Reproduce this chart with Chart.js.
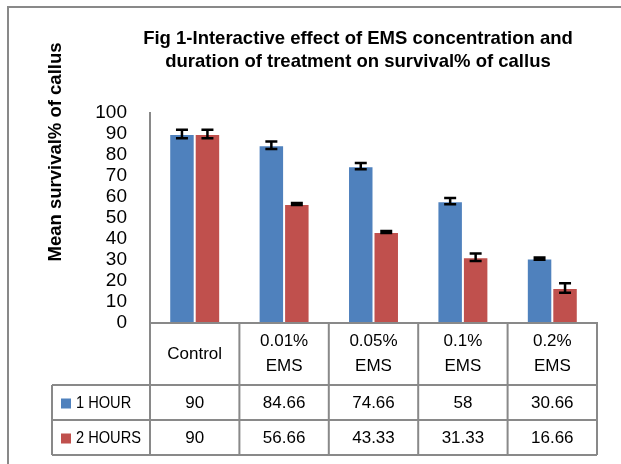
<!DOCTYPE html>
<html>
<head>
<meta charset="utf-8">
<script src="https://cdn.jsdelivr.net/npm/chart.js@4/dist/chart.umd.min.js"></script>
<style>
  html, body { margin: 0; padding: 0; background: #fff; }
  #wrap { width: 621px; height: 464px; position: relative; }
</style>
</head>
<body>
<div id="wrap"><canvas id="chart"></canvas></div>
<script>
// --- Data ---
const categories = [['Control'], ['0.01%', 'EMS'], ['0.05%', 'EMS'], ['0.1%', 'EMS'], ['0.2%', 'EMS']];
const seriesNames = ['1 HOUR', '2 HOURS'];
const oneHour = [90, 84.66, 74.66, 58, 30.66];
const twoHours = [90, 56.66, 43.33, 31.33, 16.66];
const oneHourErr = [2, 1.8, 1.5, 1.5, 0.5];
const twoHoursErr = [2, 0.5, 0.5, 1.8, 2.3];
const yTicks = [0, 10, 20, 30, 40, 50, 60, 70, 80, 90, 100];
const titleLines = ['Fig 1-Interactive effect of EMS concentration and', 'duration of treatment on survival% of callus'];
const yTitle = 'Mean survival% of callus';

const FONT = "'Liberation Sans', Arial, sans-serif";
const BLUE = '#4F81BD';
const RED = '#C0504D';
const GRID = '#898989';

// --- Error bars drawn from the scales ---
const errorBars = {
    id: 'errorBars',
    afterDatasetsDraw(chart) {
        const ctx = chart.ctx;
        const y = chart.scales.y;
        const errs = [oneHourErr, twoHoursErr];
        ctx.save();
        ctx.strokeStyle = '#000';
        ctx.lineWidth = 2.5;
        chart.data.datasets.forEach((ds, di) => {
            const meta = chart.getDatasetMeta(di);
            meta.data.forEach((bar, i) => {
                const v = ds.data[i];
                const e = errs[di][i];
                const top = y.getPixelForValue(v + e);
                const bot = y.getPixelForValue(v - e);
                ctx.beginPath();
                ctx.moveTo(bar.x, top); ctx.lineTo(bar.x, bot);
                ctx.moveTo(bar.x - 6, top); ctx.lineTo(bar.x + 6, top);
                ctx.moveTo(bar.x - 6, bot); ctx.lineTo(bar.x + 6, bot);
                ctx.stroke();
            });
        });
        ctx.restore();
    }
};

// --- Titles, frame and data table ---
const decorations = {
    id: 'decorations',
    afterDraw(chart) {
        const ctx = chart.ctx;
        const x = chart.scales.x;
        const area = chart.chartArea;
        ctx.save();

        // outer frame (left and top edges visible)
        ctx.strokeStyle = GRID;
        ctx.lineWidth = 2;
        ctx.beginPath();
        ctx.moveTo(8, 464); ctx.lineTo(8, 7); ctx.lineTo(621, 7);
        ctx.stroke();

        // chart title
        ctx.fillStyle = '#000';
        ctx.font = 'bold 18.5px ' + FONT;
        ctx.textAlign = 'center';
        ctx.textBaseline = 'middle';
        ctx.fillText(titleLines[0], 358, 39);
        ctx.fillText(titleLines[1], 358, 62);

        // y axis title
        ctx.save();
        ctx.translate(56, 152);
        ctx.rotate(-Math.PI / 2);
        ctx.fillText(yTitle, 0, 0);
        ctx.restore();

        // data table
        const half = (x.getPixelForValue(1) - x.getPixelForValue(0)) / 2;
        const left = x.getPixelForValue(0) - half;
        const right = x.getPixelForValue(categories.length - 1) + half;
        const headTop = area.bottom;
        const headBot = headTop + 62;
        const rowH = 35;
        const tableLeft = 52;

        ctx.strokeStyle = GRID;
        ctx.lineWidth = 2;
        ctx.beginPath();
        ctx.moveTo(left, headTop); ctx.lineTo(right, headTop);
        ctx.moveTo(tableLeft, headBot); ctx.lineTo(right, headBot);
        ctx.moveTo(tableLeft, headBot + rowH); ctx.lineTo(right, headBot + rowH);
        ctx.moveTo(tableLeft, headBot + 2 * rowH); ctx.lineTo(right, headBot + 2 * rowH);
        ctx.moveTo(tableLeft, headBot); ctx.lineTo(tableLeft, headBot + 2 * rowH);
        for (let i = 0; i <= categories.length; i++) {
            const px = left + i * 2 * half;
            ctx.moveTo(px, headTop); ctx.lineTo(px, headBot + 2 * rowH);
        }
        ctx.stroke();

        ctx.font = '17px ' + FONT;
        ctx.fillStyle = '#000';
        ctx.textAlign = 'center';
        categories.forEach((lines, i) => {
            const cx = x.getPixelForValue(i);
            const mid = (headTop + headBot) / 2;
            const lh = 25;
            lines.forEach((ln, k) => {
                ctx.fillText(ln, cx, mid + (k - (lines.length - 1) / 2) * lh);
            });
        });

        const rows = [oneHour, twoHours];
        const colors = [BLUE, RED];
        rows.forEach((vals, r) => {
            const cy = headBot + r * rowH + rowH / 2 + 1;
            ctx.font = '17px ' + FONT;
            ctx.textAlign = 'center';
            ctx.fillStyle = '#000';
            vals.forEach((v, i) => ctx.fillText(String(v), x.getPixelForValue(i), cy));
            ctx.fillStyle = colors[r];
            ctx.fillRect(61, cy - 5, 10, 10);
            // legend label, slightly condensed like the original
            ctx.save();
            ctx.fillStyle = '#000';
            ctx.textAlign = 'left';
            ctx.translate(76, cy);
            ctx.scale(0.86, 1);
            ctx.fillText(seriesNames[r], 0, 0);
            ctx.restore();
        });

        ctx.restore();
    }
};

new Chart(document.getElementById('chart'), {
    type: 'bar',
    data: {
        labels: categories.map(c => c.join(' ')),
        datasets: [
            { label: seriesNames[0], data: oneHour, backgroundColor: BLUE,
              borderColor: 'rgba(255,255,255,0.35)', borderWidth: 1 },
            { label: seriesNames[1], data: twoHours, backgroundColor: RED,
              borderColor: 'rgba(255,255,255,0.35)', borderWidth: 1 }
        ]
    },
    options: {
        responsive: true,
        maintainAspectRatio: false,
        animation: false,
        layout: { padding: { left: 0, top: 113, right: 24, bottom: 141 } },
        datasets: { bar: { categoryPercentage: 0.57, barPercentage: 1 } },
        plugins: {
            legend: { display: false },
            title: { display: false },
            tooltip: { enabled: false }
        },
        scales: {
            x: {
                grid: { display: false, drawTicks: false },
                ticks: { display: false },
                border: { display: true, color: GRID, width: 2 },
                afterFit: s => { s.height = 0; }
            },
            y: {
                min: 0,
                max: 100,
                afterBuildTicks: s => { s.ticks = yTicks.map(v => ({ value: v })); },
                ticks: { color: '#000', font: { family: FONT, size: 19 }, padding: 23, autoSkip: false },
                grid: { display: false, drawTicks: false },
                border: { display: true, color: GRID, width: 2 },
                afterFit: s => { s.width = 150; }
            }
        }
    },
    plugins: [errorBars, decorations]
});
</script>
</body>
</html>
